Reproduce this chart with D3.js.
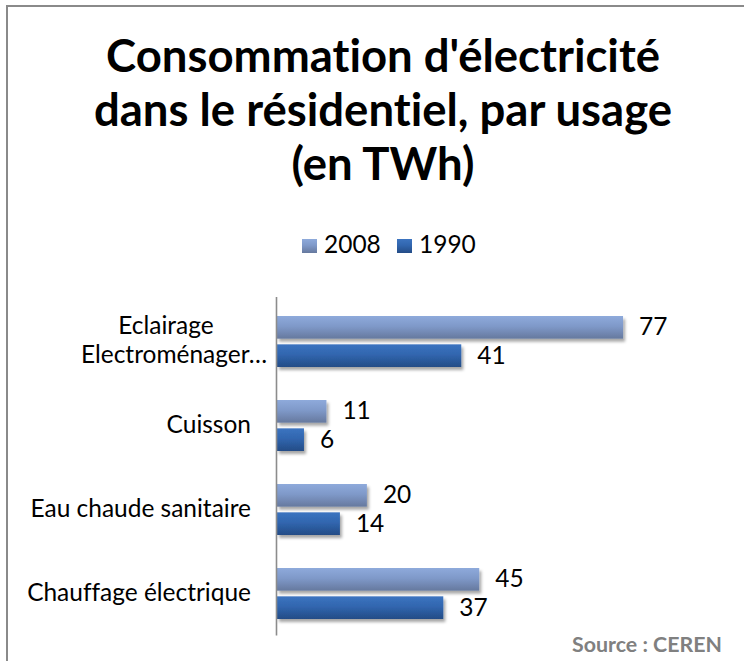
<!DOCTYPE html>
<html><head><meta charset="utf-8">
<script src="https://cdn.jsdelivr.net/npm/d3@7"></script>
<style>
html,body{margin:0;padding:0;background:#fff;}
svg{display:block;}
text{font-family:Lato,"Open Sans",sans-serif;font-variant-ligatures:none;font-feature-settings:"liga" 0,"dlig" 0;}
</style></head>
<body>
<svg id="chart" width="744" height="661"></svg>
<script>
const categories = ["Eclairage\nElectroménager…", "Cuisson", "Eau chaude sanitaire", "Chauffage électrique"];
const seriesNames = ["2008", "1990"];
const values2008 = [77, 11, 20, 45];
const values1990 = [41, 6, 14, 37];
const titleLines = ["Consommation d'électricité", "dans le résidentiel, par usage", "(en TWh)"];
const sourceText = "Source : CEREN";

const seriesValues = {"2008": values2008, "1990": values1990};
const svg = d3.select("#chart");
const defs = svg.append("defs");

function grad(id, c1, c2, c3){
  const g = defs.append("linearGradient").attr("id", id).attr("x1",0).attr("y1",0).attr("x2",0).attr("y2",1);
  g.append("stop").attr("offset","0%").attr("stop-color",c1);
  g.append("stop").attr("offset","45%").attr("stop-color",c2);
  g.append("stop").attr("offset","100%").attr("stop-color",c3);
}
grad("g2008", "#8eaadb", "#7f99c9", "#66799e");
grad("g1990", "#3c74c0", "#3166af", "#244c86");
const fill = {"2008": "url(#g2008)", "1990": "url(#g1990)"};

const f = defs.append("filter").attr("id","shadow").attr("x","-10%").attr("y","-30%").attr("width","130%").attr("height","190%");
f.append("feDropShadow").attr("dx",2).attr("dy",3).attr("stdDeviation",1.8).attr("flood-color","#000").attr("flood-opacity",0.35);

// border
svg.append("rect").attr("x",7).attr("y",6).attr("width",800).attr("height",800)
  .attr("fill","none").attr("stroke","#8a8a8a").attr("stroke-width",2);

function fitWidth(sel, target){
  const node = sel.node();
  const fs = parseFloat(sel.attr("font-size"));
  const w = node.getComputedTextLength();
  sel.attr("font-size", (fs*target/w).toFixed(2));
  return fs*target/w;
}

// title
const title = svg.append("g");
const tl = title.selectAll("text").data(titleLines).join("text")
  .attr("x", 383).attr("y", (d,i)=>72 + i*54)
  .attr("text-anchor","middle").attr("font-weight","bold").attr("font-size",36)
  .attr("fill","#000").text(d=>d);
const tfs = fitWidth(d3.select(tl.nodes()[0]), 554);
tl.attr("font-size", tfs.toFixed(2));

// scales
const x = d3.scaleLinear().domain([0, 80]).range([277, 277 + 80*4.494]);
const y0 = d3.scaleBand().domain(categories).range([299.5, 635.5]).padding(0);
const groupH = 51;
const y1 = d3.scaleBand().domain(seriesNames).range([0, groupH]).paddingInner(0.2);
const gOff = (y0.bandwidth() - groupH)/2;

// bars
const groups = svg.append("g").selectAll("g").data(categories).join("g")
  .attr("transform", d=>`translate(0,${y0(d)+gOff})`);
groups.selectAll("rect").data((d,i)=>seriesNames.map(s=>({s, v: seriesValues[s][i]})))
  .join("rect")
  .attr("x", x(0)).attr("y", d=>y1(d.s))
  .attr("width", d=>x(d.v)-x(0)).attr("height", y1.bandwidth())
  .attr("fill", d=>fill[d.s]).attr("filter","url(#shadow)");

// value labels
groups.selectAll("text.val").data((d,i)=>seriesNames.map(s=>({s, v: seriesValues[s][i]})))
  .join("text").attr("class","val")
  .attr("x", d=>x(d.v)+16).attr("y", d=>y1(d.s)+y1.bandwidth()/2+8)
  .attr("font-size", 21).attr("fill","#000").text(d=>d.v);

// axis line
const axis = d3.axisLeft(y0).tickSize(0).tickFormat("");
const ag = svg.append("g").attr("transform",`translate(${x(0)-0.5},0)`).call(axis);
ag.select(".domain").attr("stroke","#8c8c8c").attr("stroke-width",1.6).attr("d",`M0,297V635.5`);

// category labels
const cl = svg.append("g");
categories.forEach((c,i)=>{
  const lines = c.split("\n");
  const mid = y0(c)+gOff+groupH/2;
  const lh = 29;
  lines.forEach((ln,j)=>{
    const t = cl.append("text").attr("font-size",20).attr("fill","#000").text(ln);
    if(lines.length>1){
      t.attr("text-anchor","middle").attr("x", j===0 ? 166 : 174)
       .attr("y", mid + 7 + (j - (lines.length-1)/2)*lh);
    } else {
      t.attr("text-anchor","end").attr("x", 251).attr("y", mid + 7);
    }
  });
});
const ref = cl.selectAll("text").filter(function(){return this.textContent==="Chauffage électrique";});
const cfs = fitWidth(ref, 224);
cl.selectAll("text").attr("font-size", cfs.toFixed(2));
svg.selectAll("text.val").attr("font-size", cfs.toFixed(2));

// legend
const legend = svg.append("g");
const legX = [302, 397];
seriesNames.forEach((s,i)=>{
  legend.append("rect").attr("x",legX[i]).attr("y",239).attr("width",15).attr("height",14).attr("fill",fill[s]);
  legend.append("text").attr("x",legX[i]+22).attr("y",253).attr("font-size",cfs.toFixed(2)).attr("fill","#000").text(s);
});

// source
const st = svg.append("text").attr("x",722).attr("y",652).attr("text-anchor","end")
  .attr("font-weight","bold").attr("font-size",17).attr("fill","#808080").text(sourceText);
fitWidth(st, 150);
</script>
</body></html>
